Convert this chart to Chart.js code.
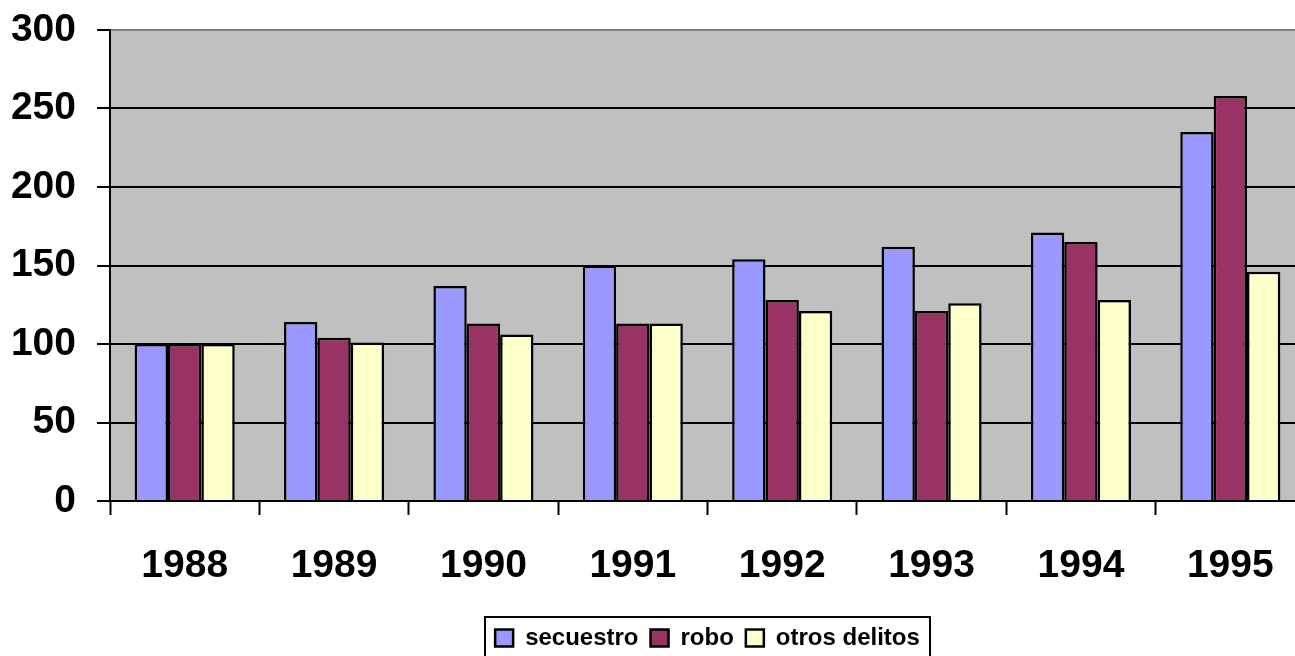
<!DOCTYPE html>
<html>
<head>
<meta charset="utf-8">
<script src="https://cdn.jsdelivr.net/npm/chart.js@4/dist/chart.umd.min.js"></script>
<style>
  html, body { margin: 0; padding: 0; background: #fff; overflow: hidden; }
  #wrap { width: 1310px; height: 660px; }
</style>
</head>
<body>
<div id="wrap"><canvas id="c" width="1310" height="660"></canvas></div>
<script>
// Years on the category axis
const years = ['1988', '1989', '1990', '1991', '1992', '1993', '1994', '1995'];

// Index values per offence type
const secuestro = [100, 114, 137, 150, 154, 162, 171, 235];
const robo      = [100, 104, 113, 113, 128, 121, 165, 258];
const otros     = [100, 101, 106, 113, 121, 126, 128, 146];

// Value axis range
const yMin = 0;
const yMax = 300;
const yStep = 50;

const FONT = "'Liberation Sans', Arial, Helvetica, sans-serif";

// Grey plot area behind the bars
const plotBackground = {
  id: 'plotBackground',
  beforeDraw(chart) {
    const { ctx, chartArea: a } = chart;
    ctx.save();
    ctx.fillStyle = '#fff';
    ctx.fillRect(0, 0, chart.width, chart.height);
    ctx.fillStyle = '#C0C0C0';
    ctx.fillRect(a.left, a.top, a.right - a.left, a.bottom - a.top);
    ctx.restore();
  }
};

// Center the legend under the plot area and frame it
const legendFrame = {
  id: 'legendFrame',
  afterLayout(chart) {
    const lg = chart.legend;
    lg.left = chart.chartArea.left;
    lg.right = chart.chartArea.right;
  },
  afterDraw(chart) {
    const { ctx, chartArea: a } = chart;
    const cx = (a.left + a.right) / 2;
    const w = 445;
    const top = chart.legend.top + 3;
    ctx.save();
    ctx.strokeStyle = '#000';
    ctx.lineWidth = 2;
    ctx.strokeRect(Math.round(cx - w / 2), top, w, 44);
    ctx.restore();
  }
};

new Chart(document.getElementById('c'), {
  type: 'bar',
  data: {
    labels: years,
    datasets: [
      { label: 'secuestro', data: secuestro, backgroundColor: '#9999FF', borderColor: '#000', borderWidth: 2.5 },
      { label: 'robo', data: robo, backgroundColor: '#993366', borderColor: '#000', borderWidth: 2.5 },
      { label: 'otros delitos', data: otros, backgroundColor: '#FFFFCC', borderColor: '#000', borderWidth: 2.5 }
    ]
  },
  options: {
    responsive: false,
    animation: false,
    devicePixelRatio: 1,
    layout: { padding: { top: 30, right: 5, bottom: 0, left: 0 } },
    datasets: {
      bar: { categoryPercentage: 0.67, barPercentage: 1.0, borderSkipped: 'start' }
    },
    plugins: {
      tooltip: { enabled: false },
      legend: {
        position: 'bottom',
        labels: {
          color: '#000',
          font: { family: FONT, size: 24, weight: 'bold' },
          boxWidth: 18,
          boxHeight: 17,
          padding: 12
        }
      }
    },
    scales: {
      x: {
        offset: true,
        grid: {
          offset: true,
          drawOnChartArea: false,
          drawTicks: true,
          tickLength: 14,
          tickColor: '#000',
          tickWidth: 2,
          color: '#000'
        },
        border: { display: true, color: '#000', width: 2 },
        ticks: {
          color: '#000',
          padding: 28,
          maxRotation: 0,
          font: { family: FONT, size: 39, weight: 'bold' }
        },
        afterFit(scale) { scale.height = 113; scale.paddingLeft = 0; scale.paddingRight = 0; }
      },
      y: {
        min: yMin,
        max: yMax,
        grid: {
          color: (c) => (c.tick && c.tick.value === yMax ? '#808080' : '#000'),
          lineWidth: 2,
          drawTicks: true,
          tickLength: 13,
          tickColor: '#000',
          tickWidth: 2
        },
        border: { display: true, color: '#000', width: 2 },
        ticks: {
          stepSize: yStep,
          color: '#000',
          padding: 21,
          font: { family: FONT, size: 39, weight: 'bold' }
        },
        afterFit(scale) { scale.width = 110; scale.paddingTop = 0; scale.paddingBottom = 0; }
      }
    }
  },
  plugins: [plotBackground, legendFrame]
});
</script>
</body>
</html>
